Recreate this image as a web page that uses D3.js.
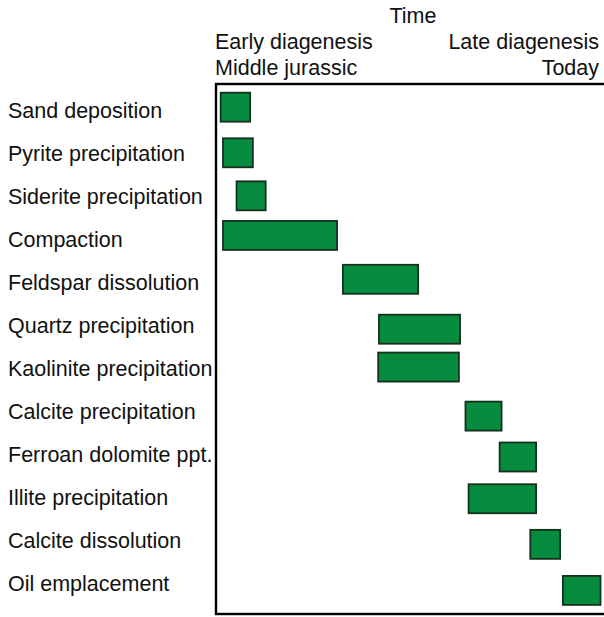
<!DOCTYPE html>
<html>
<head>
<meta charset="utf-8">
<script src="https://cdn.jsdelivr.net/npm/d3@7"></script>
<style>
  html, body { margin: 0; padding: 0; background: #fff; }
  svg { display: block; }
  text { font-family: "Liberation Sans", Arial, Helvetica, sans-serif; fill: #111; }
</style>
</head>
<body>
<script>
// ---- data ----
const processes = [
  "Sand deposition", "Pyrite precipitation", "Siderite precipitation", "Compaction",
  "Feldspar dissolution", "Quartz precipitation", "Kaolinite precipitation",
  "Calcite precipitation", "Ferroan dolomite ppt.", "Illite precipitation",
  "Calcite dissolution", "Oil emplacement"
];
// relative time, 0 = Middle jurassic (early diagenesis), 100 = Today (late diagenesis)
const startTime = [1.2, 1.8, 5.3, 1.8, 32.7, 42.0, 41.8, 64.3, 73.1, 65.1, 81.0, 89.4];
const endTime   = [8.8, 9.5, 12.8, 31.2, 52.1, 62.9, 62.6, 73.6, 82.5, 82.5, 88.7, 99.1];
// vertical lane of each bar (row units)
const barLane   = [-0.07, 0.99, 1.99, 2.91, 3.93, 5.09, 5.97, 7.11, 8.06, 9.03, 10.09, 11.16];
const axisTitle = "Time";
const startLabels = ["Early diagenesis", "Middle jurassic"];
const endLabels = ["Late diagenesis", "Today"];

// ---- layout ----
const W = 604, H = 617;
const box = { left: 216, top: 84, right: 607, bottom: 614 };
const fs = 21.5;

const svg = d3.select("body").append("svg").attr("width", W).attr("height", H);

const x = d3.scaleLinear().domain([0, 100]).range([216, 604]);
const y = d3.scaleLinear().domain([0, processes.length - 1]).range([110.2, 583.5]);
const barH = 29;

// frame
svg.append("rect")
  .attr("x", box.left).attr("y", box.top)
  .attr("width", box.right - box.left).attr("height", box.bottom - box.top)
  .attr("fill", "none").attr("stroke", "#000").attr("stroke-width", 2.4);

// header
svg.append("text").attr("x", 413).attr("y", 23)
  .attr("text-anchor", "middle").attr("font-size", fs).text(axisTitle);
svg.selectAll("text.startLab").data(startLabels).join("text")
  .attr("class", "startLab")
  .attr("x", x(0) - 1).attr("y", (d, i) => 49 + i * 26)
  .attr("font-size", fs).text(d => d);
svg.selectAll("text.endLab").data(endLabels).join("text")
  .attr("class", "endLab")
  .attr("x", x(100) - 5).attr("y", (d, i) => 49 + i * 26)
  .attr("text-anchor", "end").attr("font-size", fs).text(d => d);

// row labels
svg.selectAll("text.row").data(processes).join("text")
  .attr("class", "row")
  .attr("x", 8).attr("y", (d, i) => y(i)).attr("dy", "0.36em")
  .attr("font-size", fs).text(d => d);

// bars
const rows = processes.map((p, i) => ({ p, s: startTime[i], e: endTime[i], lane: barLane[i] }));
svg.selectAll("rect.bar").data(rows).join("rect")
  .attr("class", "bar")
  .attr("x", d => x(d.s))
  .attr("y", d => y(d.lane) - barH / 2)
  .attr("width", d => x(d.e) - x(d.s))
  .attr("height", barH)
  .attr("fill", "#078c3f")
  .attr("stroke", "#15301c")
  .attr("stroke-width", 1.8);
</script>
</body>
</html>
